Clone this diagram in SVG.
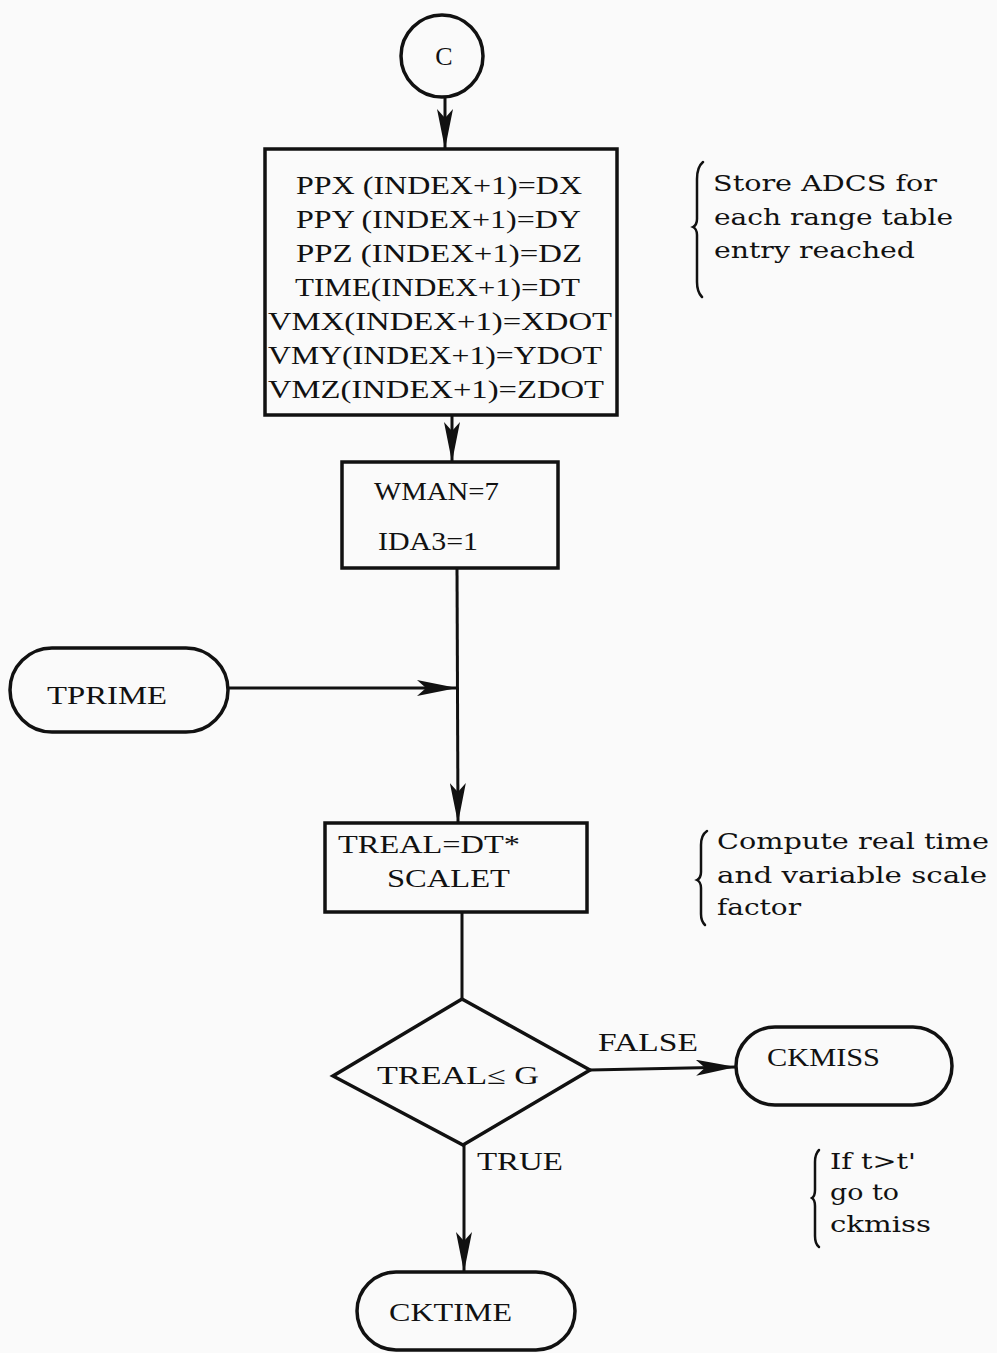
<svg xmlns="http://www.w3.org/2000/svg" width="997" height="1353" viewBox="0 0 997 1353">
<style>
.s{fill:none;stroke:#111;stroke-width:3.5}
.c{fill:none;stroke:#111;stroke-width:3}
.t{font-family:"Liberation Serif","DejaVu Serif",serif;font-size:25px;fill:#111}
.a{font-family:"DejaVu Serif","Liberation Serif",serif;font-size:22px;fill:#111}
.b{fill:none;stroke:#111;stroke-width:2.5;stroke-linecap:round}
</style>
<defs>
<marker id="ar" viewBox="0 0 40 16" refX="40" refY="8" markerWidth="40" markerHeight="16" markerUnits="userSpaceOnUse" orient="auto">
<path d="M0,0 L40,8 L0,16 L9,8 Z" fill="#111"/>
</marker>
</defs>
<rect width="997" height="1353" fill="#fafafa"/>
<g id="connectors">
<line class="c" x1="445" y1="97" x2="445" y2="149" marker-end="url(#ar)"/>
<line class="c" x1="452" y1="415" x2="452" y2="462" marker-end="url(#ar)"/>
<line class="c" x1="457" y1="568" x2="458" y2="823" marker-end="url(#ar)"/>
<line class="c" x1="228" y1="688" x2="457" y2="688" marker-end="url(#ar)"/>
<line class="c" x1="462" y1="912" x2="462" y2="999"/>
<line class="c" x1="590" y1="1070" x2="736" y2="1067" marker-end="url(#ar)"/>
<line class="c" x1="464" y1="1145" x2="464" y2="1272" marker-end="url(#ar)"/>
</g>
<g id="node-c">
<circle class="s" cx="442" cy="56" r="41"/>
<text class="t" x="444" y="65" text-anchor="middle" style="font-size:26px">C</text>
</g>
<g id="node-store">
<rect class="s" x="265" y="149" width="352" height="266"/>
<text class="t" x="296" y="194" textLength="286" lengthAdjust="spacingAndGlyphs">PPX (INDEX+1)=DX</text>
<text class="t" x="296" y="228" textLength="285" lengthAdjust="spacingAndGlyphs">PPY (INDEX+1)=DY</text>
<text class="t" x="296" y="262" textLength="286" lengthAdjust="spacingAndGlyphs">PPZ (INDEX+1)=DZ</text>
<text class="t" x="295" y="296" textLength="285" lengthAdjust="spacingAndGlyphs">TIME(INDEX+1)=DT</text>
<text class="t" x="268" y="330" textLength="344" lengthAdjust="spacingAndGlyphs">VMX(INDEX+1)=XDOT</text>
<text class="t" x="268" y="364" textLength="334" lengthAdjust="spacingAndGlyphs">VMY(INDEX+1)=YDOT</text>
<text class="t" x="268" y="398" textLength="336" lengthAdjust="spacingAndGlyphs">VMZ(INDEX+1)=ZDOT</text>
</g>
<g id="node-wman">
<rect class="s" x="342" y="462" width="216" height="106"/>
<text class="t" x="374" y="500" textLength="125" lengthAdjust="spacingAndGlyphs">WMAN=7</text>
<text class="t" x="378" y="550" textLength="100" lengthAdjust="spacingAndGlyphs">IDA3=1</text>
</g>
<g id="node-tprime">
<rect class="s" x="10" y="648" width="218" height="84" rx="42" ry="42"/>
<text class="t" x="47" y="704" textLength="120" lengthAdjust="spacingAndGlyphs">TPRIME</text>
</g>
<g id="node-treal">
<rect class="s" x="325" y="823" width="262" height="89"/>
<text class="t" x="338" y="853" textLength="182" lengthAdjust="spacingAndGlyphs">TREAL=DT*</text>
<text class="t" x="387" y="887" textLength="123" lengthAdjust="spacingAndGlyphs">SCALET</text>
</g>
<g id="node-decision">
<polygon class="s" points="462,999 590,1070 463,1145 333,1076"/>
<text class="t" x="377" y="1084" textLength="162" lengthAdjust="spacingAndGlyphs">TREAL≤ G</text>
</g>
<g id="node-ckmiss">
<rect class="s" x="736" y="1027" width="216" height="78" rx="39" ry="39"/>
<text class="t" x="767" y="1066" textLength="113" lengthAdjust="spacingAndGlyphs">CKMISS</text>
</g>
<g id="node-cktime">
<rect class="s" x="357" y="1272" width="218" height="78" rx="39" ry="39"/>
<text class="t" x="389" y="1321" textLength="123" lengthAdjust="spacingAndGlyphs">CKTIME</text>
</g>
<g id="labels">
<text class="t" x="598" y="1051" textLength="100" lengthAdjust="spacingAndGlyphs">FALSE</text>
<text class="t" x="477" y="1170" textLength="86" lengthAdjust="spacingAndGlyphs">TRUE</text>
</g>
<g id="note-store">
<path class="b" d="M703,162 Q697,167 697,179 L697,219 Q697,225 693,227 Q697,229 697,235 L697,282 Q697,292 702,297"/>
<text class="a" x="713" y="191" textLength="224" lengthAdjust="spacingAndGlyphs">Store ADCS for</text>
<text class="a" x="714" y="225" textLength="239" lengthAdjust="spacingAndGlyphs">each range table</text>
<text class="a" x="714" y="258" textLength="201" lengthAdjust="spacingAndGlyphs">entry reached</text>
</g>
<g id="note-compute">
<path class="b" d="M707,831 Q701,835 701,845 L701,872 Q701,878 697,880 Q701,882 701,888 L701,914 Q701,921 705,925"/>
<text class="a" x="717" y="849" textLength="272" lengthAdjust="spacingAndGlyphs">Compute real time</text>
<text class="a" x="717" y="883" textLength="270" lengthAdjust="spacingAndGlyphs">and variable scale</text>
<text class="a" x="717" y="915" textLength="84" lengthAdjust="spacingAndGlyphs">factor</text>
</g>
<g id="note-if">
<path class="b" d="M819,1150 Q815,1154 815,1162 L815,1190 Q815,1196 812,1198 Q815,1200 815,1206 L815,1236 Q815,1244 819,1247"/>
<text class="a" x="830" y="1169" textLength="86" lengthAdjust="spacingAndGlyphs">If t&gt;t'</text>
<text class="a" x="830" y="1200" textLength="69" lengthAdjust="spacingAndGlyphs">go to</text>
<text class="a" x="830" y="1232" textLength="101" lengthAdjust="spacingAndGlyphs">ckmiss</text>
</g>
</svg>
